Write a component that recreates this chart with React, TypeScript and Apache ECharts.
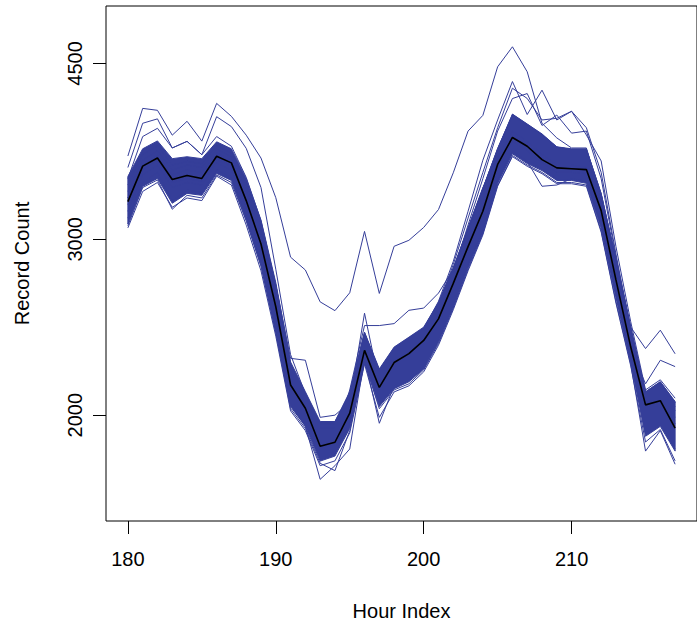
import React, { useEffect, useRef } from "react";
import * as echarts from "echarts";

const hours = [180,181,182,183,184,185,186,187,188,189,190,191,192,193,194,195,196,197,198,199,200,201,202,203,204,205,206,207,208,209,210,211,212,213,214,215,216,217];

const xTicks = [180, 190, 200, 210];
const yTicks = [2000, 3000, 4500];

const meanLine = [3272,3551,3619,3443,3476,3452,3633,3578,3280,2968, 2568,2144,2032,1862,1879,2009,2322,2132,2258,2305, 2376,2497,2710,2950,3200,3565,3794,3718,3605,3537, 3530,3523,3205,2732,2340,2048,2068,1941];

const coreUpper = [3468,3696,3764,3613,3629,3613,3756,3696,3452,3136, 2715,2261,2111,1971,1971,2111,2422,2225,2340,2394, 2450,2594,2810,3079,3374,3696,4004,3914,3825,3713, 3696,3696,3335,2862,2450,2111,2160,2064];
const coreLower = [3107,3389,3452,3260,3335,3320,3492,3436,3136,2823, 2422,2040,1949,1799,1820,1940,2261,2040,2126,2160, 2225,2367,2565,2810,3044,3413,3654,3572,3515,3436, 3436,3413,3079,2624,2261,1905,1949,1841];

const lineA = [3635,4057,4039,3814,3938,3762,4104,3983,3814,3618, 3302,2879,2795,2597,2545,2652,3055,2648,2952,2993, 3083,3213,3497,3850,3992,4465,4676,4414,3920,3790, 3703,3703,3302,2879,2450,2332,2433,2304];
const lineB = [3540,3920,3960,3703,3760,3646,3980,3890,3700,3380, 2800,2300,2100,1960,1970,2100,2420,2210,2330,2390, 2440,2590,2800,3070,3370,3700,3990,3900,3820,3710, 3690,3690,3330,2860,2440,2110,2160,2060];
const lineJ = [3450,3802,3875,3703,3760,3646,3802,3718,3460,3130, 2700,2250,2105,1965,1965,2105,2415,2220,2335,2390, 2445,2590,2805,3075,3370,3690,4000,3910,3820,3710, 3690,3690,3330,2860,2445,2105,2155,2060];
const lineC = [3400,3650,3720,3560,3590,3570,3720,3660,3420,3100, 2680,2230,2090,1960,1960,2090,2410,2210,2320,2380, 2440,2600,2850,3200,3600,3950,4316,4000,4231,3950, 4030,3816,3594,2950,2480,2120,2170,2080];
const lineC2 = [3350,3600,3680,3520,3560,3540,3690,3630,3380,3060, 2650,2200,2070,1940,1940,2070,2390,2190,2300,2360, 2420,2580,2830,3150,3500,3880,4250,4151,3950,3965, 4030,3880,3500,2900,2430,2090,2140,2040];
const lineK = [3300,3560,3640,3480,3520,3500,3660,3600,3350,3030, 2620,2180,2060,1920,1930,2060,2370,2170,2290,2340, 2410,2560,2780,3100,3450,3850,4150,4198,3900,3995, 3832,3850,3450,2880,2400,2080,2120,2020];
const lineD = [3150,3420,3500,3280,3360,3340,3520,3460,3170,2850, 2430,2050,1950,1725,1780,1850,2280,1963,2140,2170, 2240,2380,2580,2830,3060,3430,3680,3590,3390,3400, 3450,3430,3100,2640,2270,1920,1960,1850];
const lineE = [3095,3380,3440,3215,3320,3300,3480,3420,3130,2820, 2420,2030,1940,1790,1760,1930,2260,2030,2120,2150, 2220,2360,2560,2800,3040,3400,3640,3560,3500,3420, 3420,3400,3060,2600,2250,1841,1930,1786];
const lineF = [3080,3350,3420,3230,3300,3280,3470,3400,3100,2790, 2400,2020,1930,1780,1800,1920,2250,1990,2110,2140, 2210,2350,2550,2790,3030,3390,3630,3550,3490,3410, 3410,3390,3050,2590,2240,1880,1935,1800];
const lineG = [3300,3560,3620,3430,3470,3450,3620,3560,3270,2960, 2560,2140,2030,1870,1890,2120,2459,2459,2470,2547, 2560,2650,2800,3080,3380,3620,3850,3760,3650,3560, 3560,3540,3230,2760,2380,2090,2110,1990];
const lineI = [3250,3520,3600,3420,3450,3430,3600,3550,3250,2940, 2700,2280,2270,1990,2000,2060,2530,2150,2270,2320, 2390,2510,2720,2960,3210,3580,3800,3720,3610,3540, 3540,3530,3210,2740,2350,2060,2080,1960];
const lineL = [3200,3480,3560,3380,3420,3400,3580,3520,3220,2900, 2500,2100,2000,1850,1860,1990,2300,2110,2230,2280, 2350,2480,2690,2930,3180,3540,3760,3680,3580,3500, 3500,3490,3180,2700,2330,2150,2270,2237];

const ensemble = [lineA, lineB, lineJ, lineC, lineC2, lineK, lineD, lineE, lineF, lineG, lineI, lineL];

const BLUE = "#353E99";
const FONT = "'Liberation Sans', Arial, Helvetica, sans-serif";

export default function App() {
  const ref = useRef<HTMLDivElement>(null);
  useEffect(() => {
    if (!ref.current) return;
    const chart = echarts.init(ref.current, null, { renderer: "svg" });
    const pairs = (arr: number[]) => hours.map((h, i) => [h, arr[i]]);
    const series: any[] = [
      {
        type: "custom",
        data: [[hours[0], coreLower[0]]],
        silent: true,
        clip: true,
        renderItem: (params: any, api: any) => {
          const pts: number[][] = [];
          for (let i = 0; i < hours.length; i++) pts.push(api.coord([hours[i], coreUpper[i]]));
          for (let i = hours.length - 1; i >= 0; i--) pts.push(api.coord([hours[i], coreLower[i]]));
          return {
            type: "polygon",
            shape: { points: pts },
            style: { fill: BLUE, stroke: BLUE, lineWidth: 1 },
          };
        },
      },
      ...ensemble.map((arr) => ({
        type: "line",
        data: pairs(arr),
        symbol: "none",
        lineStyle: { width: 1, color: BLUE },
        silent: true,
      })),
      {
        type: "line",
        data: pairs(meanLine),
        symbol: "none",
        lineStyle: { width: 1.6, color: "#000000" },
        silent: true,
      },
    ];
    chart.setOption({
      animation: false,
      grid: {
        left: 106,
        top: 6,
        width: 593,
        height: 519.5,
        show: true,
        borderColor: "#000",
        borderWidth: 1,
      },
      xAxis: {
        type: "value",
        min: 178.52,
        max: 218.48,
        splitLine: { show: false },
        axisLine: { show: false },
        axisTick: { show: true, length: 13, customValues: xTicks, lineStyle: { color: "#000" } },
        axisLabel: {
          customValues: xTicks,
          fontSize: 20,
          color: "#000",
          margin: 28,
          fontFamily: FONT,
        },
        name: "Hour Index",
        nameLocation: "middle",
        nameGap: 80,
        nameTextStyle: { fontSize: 20, color: "#000", fontFamily: FONT },
      },
      yAxis: {
        type: "log",
        min: 1567,
        max: 5137,
        splitLine: { show: false },
        minorTick: { show: false },
        axisLine: { show: false },
        axisTick: { show: true, length: 13, customValues: yTicks, lineStyle: { color: "#000" } },
        axisLabel: {
          customValues: yTicks,
          fontSize: 20,
          color: "#000",
          margin: 21,
          rotate: 90,
          fontFamily: FONT,
          formatter: (v: number) => String(Math.round(v)),
        },
        name: "Record Count",
        nameLocation: "middle",
        nameGap: 74,
        nameTextStyle: { fontSize: 20, color: "#000", fontFamily: FONT },
      },
      series,
    });
    return () => chart.dispose();
  }, []);
  return (
    <div
      ref={ref}
      style={{ position: "absolute", left: 0, top: 0, width: 697, height: 626, background: "#fff" }}
    />
  );
}
